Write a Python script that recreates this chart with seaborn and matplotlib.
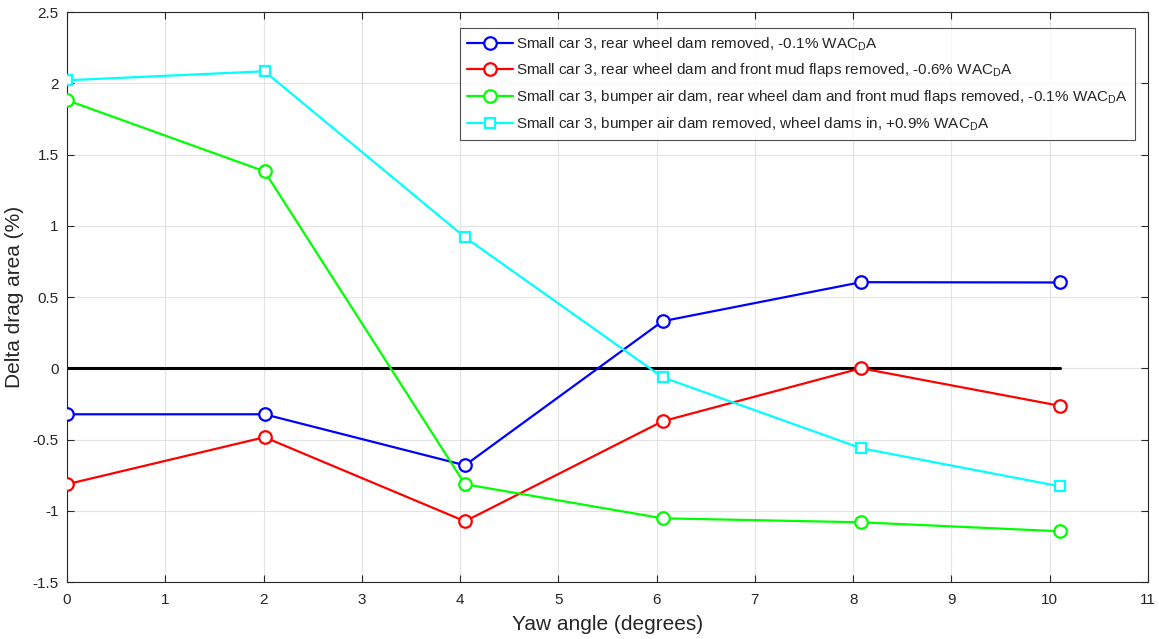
import matplotlib
matplotlib.use("Agg")
import matplotlib.pyplot as plt
import seaborn as sns
import pandas as pd

# Yaw angles (degrees) at which each configuration was measured
yaw = [0.0, 2.01, 4.05, 6.06, 8.08, 10.1]

rear_dam_removed = [-0.323, -0.323, -0.681, 0.33, 0.604, 0.602]
rear_dam_mudflaps_removed = [-0.814, -0.484, -1.074, -0.372, 0.0, -0.263]
bumper_rear_mudflaps_removed = [1.881, 1.382, -0.814, -1.053, -1.081, -1.144]
bumper_removed_dams_in = [2.021, 2.084, 0.919, -0.063, -0.561, -0.828]

labels = [
    r"Small car 3, rear wheel dam removed, -0.1% WAC$_\mathrm{D}$A",
    r"Small car 3, rear wheel dam and front mud flaps removed, -0.6% WAC$_\mathrm{D}$A",
    r"Small car 3, bumper air dam, rear wheel dam and front mud flaps removed, -0.1% WAC$_\mathrm{D}$A",
    r"Small car 3, bumper air dam removed, wheel dams in, +0.9% WAC$_\mathrm{D}$A",
]
colors = ["#0000ff", "#ff0000", "#00ff00", "#00ffff"]
markers = ["o", "o", "o", "s"]

sns.set_theme(style="ticks")
plt.rcParams["font.family"] = ["Liberation Sans", "DejaVu Sans"]
plt.rcParams["mathtext.fontset"] = "custom"
plt.rcParams["mathtext.rm"] = "Liberation Sans"

fig = plt.figure(figsize=(11.59, 6.39), dpi=100)
ax = fig.add_axes([0.0578, 0.0892, 0.9327, 0.892])

series = [rear_dam_removed, rear_dam_mudflaps_removed,
          bumper_rear_mudflaps_removed, bumper_removed_dams_in]
frames = []
for lab, vals in zip(labels, series):
    frames.append(pd.DataFrame({"yaw": yaw, "delta": vals, "config": lab}))
df = pd.concat(frames, ignore_index=True)

# zero reference line
sns.lineplot(x=[yaw[0], yaw[-1]], y=[0, 0], ax=ax, color="black", lw=2.2,
             legend=False, zorder=2)

for lab, col, mk in zip(labels, colors, markers):
    sub = df[df["config"] == lab]
    sns.lineplot(data=sub, x="yaw", y="delta", ax=ax, color=col, lw=1.6,
                 marker=mk, markersize=9 if mk == "o" else 7.5,
                 markerfacecolor="white", markeredgecolor=col,
                 markeredgewidth=1.6, label=lab, zorder=3)

ax.set_xlim(0, 11)
ax.set_ylim(-1.5, 2.5)
ax.set_xticks(range(0, 12))
ax.set_yticks([-1.5, -1, -0.5, 0, 0.5, 1, 1.5, 2, 2.5])
ax.set_yticklabels(["-1.5", "-1", "-0.5", "0", "0.5", "1", "1.5", "2", "2.5"])
ax.grid(True, color="#e3e3e3", lw=0.8)
ax.set_axisbelow(True)
ax.tick_params(direction="in", length=5, width=0.8, colors="#262626",
               labelsize=11, top=True, right=True, labeltop=False, labelright=False)
ax.tick_params(axis="x", pad=8)
ax.tick_params(axis="y", pad=6)
for s in ax.spines.values():
    s.set_color("#262626")
    s.set_linewidth(0.8)

ax.set_xlabel("Yaw angle (degrees)", fontsize=15, color="#262626", labelpad=6)
ax.set_ylabel("Delta drag area (%)", fontsize=15, color="#262626", labelpad=6)

leg = ax.legend(loc="upper right", bbox_to_anchor=(0.988, 0.9714), borderaxespad=0,
                fontsize=11, frameon=True, fancybox=False, edgecolor="#262626",
                handlelength=3.0, borderpad=0.43, labelspacing=0.58,
                handletextpad=0.25)
leg.get_frame().set_linewidth(0.8)

fig.savefig("out.png", dpi=100)
